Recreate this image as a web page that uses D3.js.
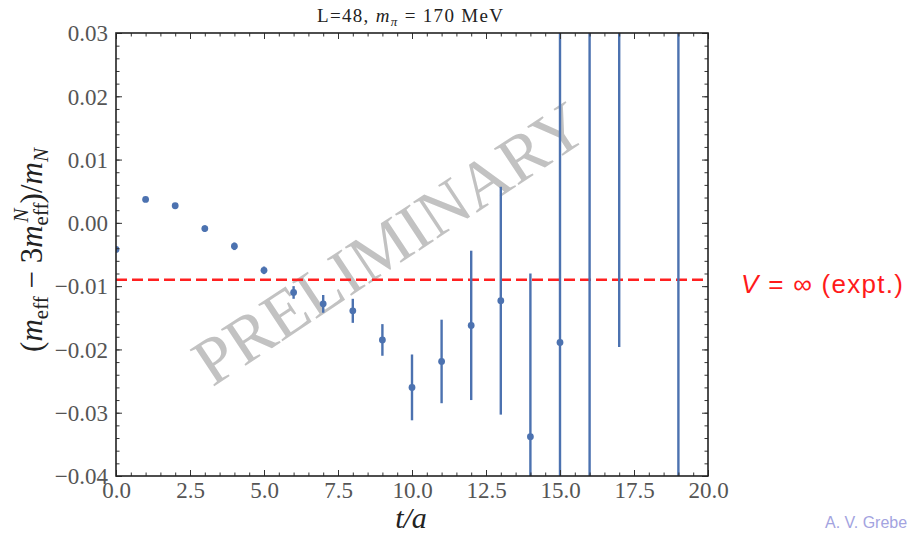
<!DOCTYPE html>
<html>
<head>
<meta charset="utf-8">
<script src="https://cdn.jsdelivr.net/npm/d3@7"></script>
<style>
  html, body { margin: 0; padding: 0; background: #fff; }
  svg { display: block; }
</style>
</head>
<body>
<svg id="chart" width="908" height="537"></svg>
<script>
// Effective-mass difference vs. Euclidean time
const tValues   = [0, 1, 2, 3, 4, 5, 6, 7, 8, 9, 10, 11, 12, 13, 14, 15, 16, 17, 19];
const meanVals  = [-0.0042, 0.0037, 0.0027, -0.0009, -0.0037, -0.0075, -0.0110, -0.0128, -0.0139,
                   -0.0185, -0.0260, -0.0219, -0.0162, -0.0123, -0.0338, -0.0189, -0.0500, 0.0400, 0.0600];
const errVals   = [0.0002, 0.0002, 0.0003, 0.0005, 0.0006, 0.0006, 0.0010, 0.0014, 0.0019,
                   0.0025, 0.0052, 0.0066, 0.0118, 0.0180, 0.0258, 0.0600, 0.0900, 0.0596, 0.1100];
const xTicks    = [0, 2.5, 5, 7.5, 10, 12.5, 15, 17.5, 20];
const yTicks    = [-0.04, -0.03, -0.02, -0.01, 0.00, 0.01, 0.02, 0.03];
const exptValue = -0.009;

const svg = d3.select("#chart");
const margin = { left: 116, right: 200, top: 33, bottom: 61 };
const W = 908, H = 537;
const x = d3.scaleLinear().domain([0, 20]).range([margin.left, W - margin.right]);
const y = d3.scaleLinear().domain([-0.04, 0.03]).range([H - margin.bottom, margin.top]);

const serif = "'Liberation Serif', 'DejaVu Serif', serif";
const sans = "'Liberation Sans', 'DejaVu Sans', sans-serif";
const blue = "#4c72b0";

svg.append("clipPath").attr("id", "plotClip")
  .append("rect")
  .attr("x", x(0)).attr("y", y(0.03))
  .attr("width", x(20) - x(0)).attr("height", y(-0.04) - y(0.03));

// Watermark
svg.append("text")
  .attr("transform", `translate(${389},${243}) rotate(-33.5)`)
  .attr("text-anchor", "middle")
  .attr("dominant-baseline", "central")
  .attr("font-family", serif)
  .attr("font-size", 67)
  .attr("fill", "#c2c2c2")
  .text("PRELIMINARY");

// Horizontal reference line
const plot = svg.append("g").attr("clip-path", "url(#plotClip)");
plot.append("line")
  .attr("x1", x(0)).attr("x2", x(20))
  .attr("y1", y(exptValue)).attr("y2", y(exptValue))
  .attr("stroke", "#ff2020").attr("stroke-width", 2.6)
  .attr("stroke-dasharray", "11,5");

// Error bars and points
const data = tValues.map((t, i) => ({ t, v: meanVals[i], e: errVals[i] }));
plot.selectAll("line.err").data(data).enter().append("line")
  .attr("class", "err")
  .attr("x1", d => x(d.t)).attr("x2", d => x(d.t))
  .attr("y1", d => y(d.v - d.e)).attr("y2", d => y(d.v + d.e))
  .attr("stroke", blue).attr("stroke-width", 2.4);
plot.selectAll("circle").data(data).enter().append("circle")
  .attr("cx", d => x(d.t)).attr("cy", d => y(d.v))
  .attr("r", 3.4).attr("fill", blue);

// Axes with inward ticks on all four sides
const tickColor = "#333";
const labelColor = "#555";
function styleAxis(g) {
  g.select(".domain").remove();
  g.selectAll(".tick line").attr("stroke", tickColor).attr("stroke-width", 1);
}
const xMinor = d3.range(0, 20.01, 0.5);
const yMinor = d3.range(-0.04, 0.0301, 0.002);

const fmtX = d3.format(".1f"), fmtY = d3.format(".2f");

// bottom
svg.append("g").attr("transform", `translate(0,${y(-0.04)})`)
  .call(d3.axisBottom(x).tickValues(xMinor).tickSize(-3.5).tickFormat(""))
  .call(styleAxis);
const gxb = svg.append("g").attr("transform", `translate(0,${y(-0.04)})`)
  .call(d3.axisBottom(x).tickValues(xTicks).tickSize(-6).tickPadding(12).tickFormat(fmtX))
  .call(styleAxis);
gxb.selectAll("text").attr("font-family", serif).attr("font-size", 23).attr("fill", labelColor)
  .attr("y", 22).attr("dy", 0);
// top
svg.append("g").attr("transform", `translate(0,${y(0.03)})`)
  .call(d3.axisTop(x).tickValues(xMinor).tickSize(-3.5).tickFormat(""))
  .call(styleAxis);
svg.append("g").attr("transform", `translate(0,${y(0.03)})`)
  .call(d3.axisTop(x).tickValues(xTicks).tickSize(-6).tickFormat(""))
  .call(styleAxis);
// left
svg.append("g").attr("transform", `translate(${x(0)},0)`)
  .call(d3.axisLeft(y).tickValues(yMinor).tickSize(-3.5).tickFormat(""))
  .call(styleAxis);
const gyl = svg.append("g").attr("transform", `translate(${x(0)},0)`)
  .call(d3.axisLeft(y).tickValues(yTicks).tickSize(-6).tickPadding(14).tickFormat(fmtY))
  .call(styleAxis);
gyl.selectAll("text").attr("font-family", serif).attr("font-size", 23).attr("fill", labelColor)
  .attr("x", -8).attr("dy", "0.34em");
// right
svg.append("g").attr("transform", `translate(${x(20)},0)`)
  .call(d3.axisRight(y).tickValues(yMinor).tickSize(-3.5).tickFormat(""))
  .call(styleAxis);
svg.append("g").attr("transform", `translate(${x(20)},0)`)
  .call(d3.axisRight(y).tickValues(yTicks).tickSize(-6).tickFormat(""))
  .call(styleAxis);

// Frame
svg.append("rect")
  .attr("x", x(0)).attr("y", y(0.03))
  .attr("width", x(20) - x(0)).attr("height", y(-0.04) - y(0.03))
  .attr("fill", "none").attr("stroke", "#222").attr("stroke-width", 1.6);

// Title
const title = svg.append("text")
  .attr("x", 410).attr("y", 22).attr("text-anchor", "middle")
  .attr("font-family", serif).attr("font-size", 19).attr("fill", "#222")
  .attr("textLength", 186).attr("lengthAdjust", "spacing");
title.append("tspan").text("L=48, ");
title.append("tspan").attr("font-style", "italic").text("m");
title.append("tspan").attr("font-style", "italic").attr("font-size", 13).attr("dy", 4).text("π");
title.append("tspan").attr("dy", -4).text(" = 170 MeV");

// X label
svg.append("text")
  .attr("x", 411).attr("y", 528).attr("text-anchor", "middle")
  .attr("font-family", serif).attr("font-style", "italic").attr("font-size", 30)
  .attr("fill", "#222").text("t/a");

// Y label
const yl = svg.append("text")
  .attr("transform", `translate(42,${250}) rotate(-90)`)
  .attr("text-anchor", "middle")
  .attr("font-family", serif).attr("font-size", 31).attr("fill", "#222");
yl.append("tspan").text("(");
yl.append("tspan").attr("font-style", "italic").text("m");
yl.append("tspan").attr("font-size", 21).attr("dy", 6).text("eff");
yl.append("tspan").attr("dy", -6).text(" − 3");
yl.append("tspan").attr("font-style", "italic").text("m");
yl.append("tspan").attr("font-size", 21).attr("dy", 6).text("eff");
yl.append("tspan").attr("font-size", 21).attr("font-style", "italic").attr("dx", -20).attr("dy", -20).text("N");
yl.append("tspan").attr("dy", 14).attr("dx", 5).text(")/");
yl.append("tspan").attr("font-style", "italic").text("m");
yl.append("tspan").attr("font-size", 21).attr("font-style", "italic").attr("dy", 6).text("N");

// Experimental value label
const vt = svg.append("text")
  .attr("x", 741).attr("y", 293)
  .attr("font-family", sans).attr("font-size", 26).attr("fill", "#ff1a1a")
  .attr("textLength", 162).attr("lengthAdjust", "spacing");
vt.append("tspan").attr("font-style", "italic").text("V");
vt.append("tspan").text(" = ∞ (expt.)");

// Author footer
svg.append("text")
  .attr("x", 825).attr("y", 528)
  .attr("font-family", sans).attr("font-size", 16).attr("fill", "#a3a3e0")
  .text("A. V. Grebe");
</script>
</body>
</html>
